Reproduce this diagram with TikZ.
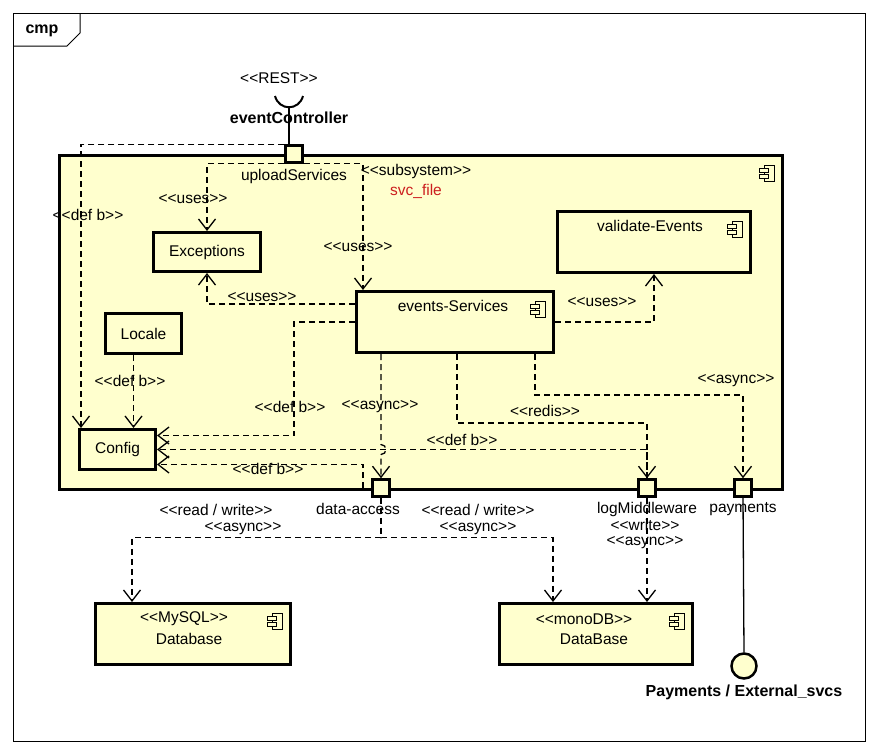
\documentclass[tikz,border=0pt]{standalone}
\usepackage{fontspec}
\newfontfamily\umlfont{Liberation Sans}
\usepackage{tikz}
\usetikzlibrary{positioning,arrows.meta,calc}

\definecolor{COMP_FILL}{RGB}{255,255,206}
\definecolor{NAME_RED}{RGB}{204,30,30}

\tikzstyle{lbl} = [inner sep=0pt, font=\umlfont\fontsize{15.5}{17}\selectfont]
\tikzstyle{bold_lbl} = [inner sep=0pt, font=\umlfont\bfseries\fontsize{16}{18}\selectfont]
\tikzstyle{layer} = [rectangle, draw, line width=3pt, fill=COMP_FILL, inner sep=0pt, anchor=north west]
\tikzstyle{comp_small} = [layer, minimum width=76pt, minimum height=40pt]
\tikzstyle{comp_big} = [layer, minimum width=195pt, minimum height=61pt]
\tikzstyle{port} = [rectangle, draw, line width=2.5pt, fill=COMP_FILL, minimum size=17pt, inner sep=0pt]
\tikzstyle{dep} = [line width=1.3pt, dash pattern=on 6pt off 4pt, -{Straight Barb[length=11pt,width=17pt]}]

% small component glyph, placed under the north east corner of a box
\newcommand{\compicon}[1]{%
  \begin{scope}[shift={($(#1)+(-18,19)$)}, line width=0.8pt]
    \draw[fill=COMP_FILL] (-2,-8) rectangle (8,8);
    \draw[fill=COMP_FILL] (-7,-5) rectangle (2,-1);
    \draw[fill=COMP_FILL] (-7,1) rectangle (2,5);
  \end{scope}}

\begin{document}
\begin{tikzpicture}[x=1pt, y=-1pt]
      \useasboundingbox (0,0) rectangle (878,753);

      %%%%%%%%%%%%%%%%%%%%%%%%%%%%%%%%%%%%%%%%%%
      % FRAME
      %%%%%%%%%%%%%%%%%%%%%%%%%%%%%%%%%%%%%%%%%%%
      \node[draw, line width=1pt, inner sep=0pt, minimum width=852pt, minimum height=728pt, anchor=north west] (FRAME) at (13,13) {};
      \draw[line width=1pt] (FRAME.north west) ++(0,33) -- ++(54,0) -- ++(13,-13) -- ++(0,-20);
      \node[bold_lbl] (CMP) at (42,31) {cmp};

      %%%%%%%%%%%%%%%%%%%%%%%%%%%%%%%%%%%%%%%%%%
      % SUBSYSTEM svc_file
      %%%%%%%%%%%%%%%%%%%%%%%%%%%%%%%%%%%%%%%%%%%
      \node[layer, minimum width=723pt, minimum height=334pt] (SVC) at (58,154) {};
      \compicon{SVC.north east}
      \node[lbl] (SVC_st) at (416,171) {<<subsystem>>};
      \node[lbl, text=NAME_RED, below=6pt of SVC_st] (SVC_name) {svc\_file};

      \node[comp_small, minimum width=107pt, minimum height=39pt] (EXC) at (152,231) {};
      \node[lbl] (EXC_name) at (EXC) {Exceptions};
      \node[comp_small] (LOC) at (104,312) {};
      \node[lbl] (LOC_name) at (LOC) {Locale};
      \node[comp_small] (CFG) at (78,428) {};
      \node[lbl] (CFG_name) at (CFG) {Config};

      \node[comp_big, minimum width=193pt] (VE) at (556,210) {};
      \node[lbl, below=10pt of VE.north, xshift=-4pt] (VE_name) {validate-Events};
      \compicon{VE.north east}

      \node[comp_big, minimum width=197pt] (ES) at (355,290) {};
      \node[lbl, below=10pt of ES.north, xshift=-2pt] (ES_name) {events-Services};
      \compicon{ES.north east}

      % ports
      \node[port] (P_up)  at (294,154) {};
      \node[port] (P_da)  at (381,488) {};
      \node[port] (P_lm)  at (647,488) {};
      \node[port] (P_pay) at (743,488) {};
      \node[lbl, below=5pt of P_up] (P_up_name) {uploadServices};
      \node[lbl, below=5pt of P_da, xshift=-23pt] (P_da_name) {data-access};
      \node[lbl, below=4pt of P_lm] (P_lm_name) {logMiddleware};
      \node[lbl, below=5pt of P_pay] (P_pay_name) {payments};

      %%%%%%%%%%%%%%%%%%%%%%%%%%%%%%%%%%%%%%%%%%
      % REST INTERFACE
      %%%%%%%%%%%%%%%%%%%%%%%%%%%%%%%%%%%%%%%%%%%
      \coordinate (SOCK) at (289,107);
      \draw[line width=2pt] (275,96) .. controls (279,111) and (299,111) .. (303,96);
      \draw[line width=1.2pt] (SOCK) -- (SOCK |- P_up.north);
      \node[lbl] (REST) at (279,78) {<<REST>>};
      \node[bold_lbl] (EVC) at (289,118) {eventController};

      %%%%%%%%%%%%%%%%%%%%%%%%%%%%%%%%%%%%%%%%%%
      % DATABASES
      %%%%%%%%%%%%%%%%%%%%%%%%%%%%%%%%%%%%%%%%%%%
      \node[comp_big] (DB1) at (94,602) {};
      \node[lbl] (DB1_st) at (184,619) {<<MySQL>>};
      \node[lbl] (DB1_name) at (189,639) {Database};
      \compicon{DB1.north east}

      \node[comp_big, minimum width=193pt] (DB2) at (498,602) {};
      \node[lbl] (DB2_st) at (584,619) {<<monoDB>>};
      \node[lbl] (DB2_name) at (594,639) {DataBase};
      \compicon{DB2.north east}

      \node[circle, draw, line width=2.5pt, fill=COMP_FILL, minimum size=25pt, inner sep=0pt] (EXT) at (744,666) {};
      \node[bold_lbl, below=5pt of EXT] (EXT_name) {Payments / External\_svcs};

      %%%%%%%%%%%%%%%%%%%%%%%%%%%%%%%%%%%%%%%%%%
      % DEPENDENCIES
      %%%%%%%%%%%%%%%%%%%%%%%%%%%%%%%%%%%%%%%%%%%
      \draw[dep] (P_up.north west) -| ([xshift=3pt]CFG.north west);
      \draw[dep] (P_up.south) -| (EXC.north);
      \draw[dep] (P_up.south) -| ([xshift=8pt]ES.north west);
      \draw[dep] ([yshift=-14pt]ES.north west) -| (EXC.south);
      \draw[dep] (ES.east) -| (VE.south);
      \draw[dep] (ES.west) -| ([xshift=137pt,yshift=14pt]CFG.east) -- ([yshift=14pt]CFG.east);
      \draw[dep] ([xshift=-10pt]LOC.south) -- ([xshift=-10pt]LOC.south |- CFG.north);
      \draw[dep] (ES.south -| P_da) -- ([yshift=5pt]P_da |- CFG.east) arc[start angle=90, end angle=-90, radius=5pt] -- (P_da.north);
      \draw[dep] (P_lm.north) |- (CFG.east);
      \draw[dep] ([xshift=-18pt]P_da.center) |- ([yshift=-15pt]CFG.east);
      \draw[dep] ([xshift=2pt]ES.south) -- ++(0,69) -| (P_lm.north);
      \draw[dep] ([xshift=80pt]ES.south) -- ++(0,41) -| (P_pay.north);
      \draw[dep] (P_da.south) -- ++(0,40) -| ([xshift=38pt]DB1.north west);
      \draw[dep] (P_da.south) -- ++(0,40) -| ([xshift=55pt]DB2.north west);
      \draw[dep] (P_lm.south) -- (P_lm.south |- DB2.north);
      \draw[line width=1.3pt] (P_pay.south) -- (EXT.north);

      % labels on the dependencies
      \node[lbl] (L_defb1) at (88,215) {<<def b>>};
      \node[lbl] (L_uses1) at (193,199) {<<uses>>};
      \node[lbl] (L_uses2) at (358,247) {<<uses>>};
      \node[lbl] (L_uses3) at (262,297) {<<uses>>};
      \node[lbl] (L_uses4) at (602,302) {<<uses>>};
      \node[lbl] (L_defb2) at (130,381) {<<def b>>};
      \node[lbl] (L_defb3) at (290,407) {<<def b>>};
      \node[lbl] (L_async1) at (380,407) {<<async>>};
      \node[lbl] (L_redis) at (545,411) {<<redis>>};
      \node[lbl] (L_async2) at (736,381) {<<async>>};
      \node[lbl] (L_defb4) at (462,440) {<<def b>>};
      \node[lbl] (L_defb5) at (268,469) {<<def b>>};
      \node[lbl] (L_rw1) at (216,510) {<<read / write>>};
      \node[lbl] (L_async3) at (243,529) {<<async>>};
      \node[lbl] (L_rw2) at (478,510) {<<read / write>>};
      \node[lbl] (L_async4) at (478,529) {<<async>>};
      \node[lbl] (L_write) at (645,525) {<<write>>};
      \node[lbl] (L_async5) at (645,543) {<<async>>};

\end{tikzpicture}
\end{document}
